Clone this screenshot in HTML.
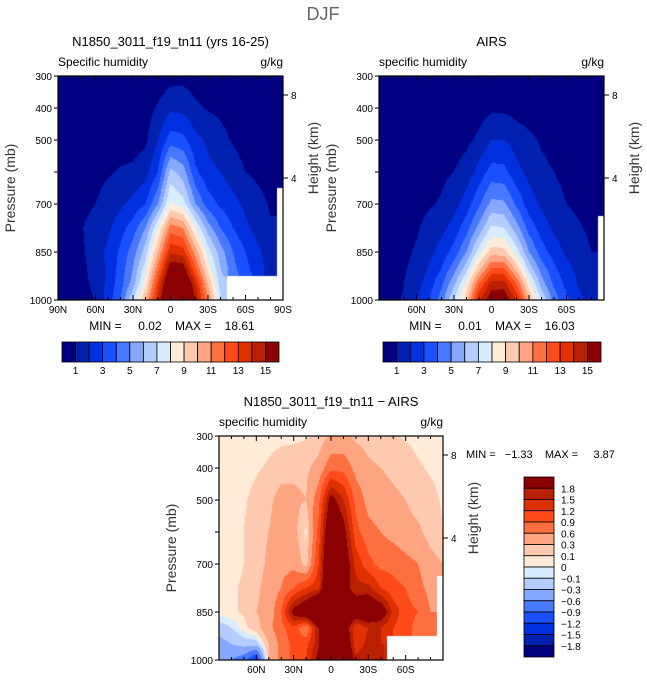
<!DOCTYPE html>
<html><head><meta charset="utf-8">
<style>
body{margin:0;background:#fff;width:647px;height:684px;overflow:hidden;position:relative;font-family:"Liberation Sans",sans-serif;}
canvas{position:absolute;}
svg{position:absolute;left:0;top:0;}
text{white-space:pre;}
</style></head>
<body>
<canvas id="cA" width="225" height="224" style="left:58px;top:76px"></canvas>
<canvas id="cB" width="225" height="224" style="left:379px;top:76px"></canvas>
<canvas id="cC" width="224" height="224" style="left:219px;top:436px"></canvas>
<svg id="ov" width="647" height="684"></svg>
<script>
const lats=[-90,-80,-70,-60,-50,-40,-30,-20,-10,0,10,20,30,40,50,60,70,80,90];
const pres=[300,400,500,600,700,775,850,900,950,1000];
const N=null;
const modelQ=[
[.1,.1,.1,.1,.1,.1,.2,.3,.4,.6,.7,.5,.4,.3,.2,.2,.1,.1,.1],
[.1,.1,.1,.2,.2,.3,.4,.6,1.1,1.8,1.7,1.2,.9,.8,.6,.4,.3,.2,.2],
[.2,.2,.3,.3,.4,.5,.6,.8,2.0,3.5,3.3,2.3,1.8,1.3,.9,.6,.4,.3,.2],
[.3,.3,.5,.7,.9,1.1,1.2,1.6,3.0,6.3,5.5,3.2,2.3,2.0,1.5,1.0,.8,.6,.4],
[.4,.5,.8,1.0,1.4,1.8,2.3,3.0,5.0,8.2,7.5,5.0,3.5,2.8,2.3,1.8,1.3,.9,N],
[.4,.6,1.0,1.3,1.8,2.6,3.5,5.0,8.0,11.5,11,8,5.5,4,3,2.2,1.6,1.1,N],
[.5,.6,.9,1.6,2.2,3.2,4.5,6.5,10,13.8,13.5,10.5,7.5,5.5,4,3,2.2,1.5,N],
[.5,.6,.8,1.4,2.2,3.4,5,7.5,11.5,15.8,15.6,12,8.5,6,4.3,3.3,2.4,1.6,N],
[.5,.6,.8,1.2,2.3,3.6,5.5,8.5,13,17.5,17.5,14,10,6.5,N,N,N,N,N],
[.5,.6,.8,1.0,2.5,4.0,7,10,14,18.6,18,15,11,7,N,N,N,N,N]];
const airsQ=[
[.1,.1,.1,.1,.1,.1,.1,.2,.2,.3,.3,.3,.2,.2,.1,.1,.1,.1,.1],
[.1,.1,.1,.1,.2,.2,.3,.4,.6,.8,.8,.6,.5,.4,.3,.2,.2,.1,.1],
[.2,.2,.2,.3,.3,.4,.6,.8,1.2,2.0,2.0,1.6,1.2,.9,.7,.5,.4,.3,.2],
[.3,.3,.4,.5,.6,.8,1.0,1.4,2.4,3.4,3.3,2.3,1.7,1.2,1.0,.8,.6,.4,.3],
[.4,.4,.5,.7,.9,1.1,1.6,2.5,3.8,5.3,5.2,3.8,2.5,1.8,1.3,1.0,.8,.6,.4],
[.4,.5,.7,.9,1.3,1.7,2.4,3.6,5.3,7.2,7.0,5.4,3.6,2.5,1.8,1.4,1.1,.8,N],
[.5,.6,.8,1.1,1.7,2.4,3.4,5,7.5,9.5,9.4,7.5,5,3.5,2.5,1.8,1.4,1,N],
[.5,.6,.9,1.3,2.1,3,4.5,6.5,9.5,12,12,9.5,6.5,4.5,3.2,2.3,1.7,1.1,N],
[.5,.6,1.0,1.6,2.5,3.8,5.8,8.3,12,14.5,14.5,12,8.5,5.5,3.8,2.7,1.9,1.3,N],
[.6,.7,1.1,1.9,3,4.5,7,9.5,14,15.8,16,14,10,7,4.6,3.2,2.3,1.5,N]];
const diffQ=[
[.05,.05,.05,.05,.05,.05,.05,.08,.15,.35,.35,.25,.2,.15,.12,.08,.05,.05,.05],
[.05,.05,.05,.08,.12,.2,.25,.25,.4,.8,.8,.5,.35,.3,.25,.2,.12,.08,.05],
[.05,.05,.08,.15,.25,.4,.35,.3,.8,2.0,1.5,.8,.5,.4,.35,.3,.2,.15,.08],
[.05,.05,.1,.2,.3,.4,.4,.05,1.0,2.5,2.0,1.0,.7,.6,.5,.4,.35,.2,.1],
[.05,.05,.1,.2,.35,.5,.5,.2,1.2,2.8,2.2,1.4,1.0,.8,.8,.7,.6,.4,.3],
[.05,.08,.12,.25,.4,.6,.9,1.2,1.4,2.8,2.0,1.6,1.6,1.2,1.0,.9,.7,.5,N],
[.05,.08,.12,.3,.4,.9,2.0,2.4,3.0,3.4,2.6,2.2,2.4,2.2,1.4,1.0,.9,.6,N],
[-.2,-.1,.05,.2,.5,.8,1.1,.6,1.8,3.2,2.3,1.2,1.5,1.5,1.2,1.0,.8,.6,N],
[-.4,-.3,-.2,-.2,.3,.7,1.0,1.1,1.7,3.5,2.5,1.3,1.6,1.5,N,N,N,N,N],
[-.5,-.6,-.8,-1.3,.3,.7,1.0,1.2,2.0,3.8,2.8,1.6,1.8,1.5,N,N,N,N,N]];
const levelsQ=[1,2,3,4,5,6,7,8,9,10,11,12,13,14,15];
const levelsD=[-1.8,-1.5,-1.2,-0.9,-0.6,-0.3,-0.1,0,0.1,0.3,0.6,0.9,1.2,1.5,1.8];
const qLabels=["1","3","5","7","9","11","13","15"];
const dLabels=["1.8","1.5","1.2","0.9","0.6","0.3","0.1","0","−0.1","−0.3","−0.6","−0.9","−1.2","−1.5","−1.8"];
const pTicks=[300,400,500,600,700,850,1000];
const pTickLabels=["300","400","500","","700","850","1000"];
const colors=["#000080","#0020b0","#0030e0","#1a50ff","#4878ff","#86a8ff","#b4ccff","#d8ecff","#ffebd8","#ffcab0","#ffa480","#ff7040","#ff4a1a","#e03000","#b82000","#8b0000"];

function lev(v,L){let k=0;while(k<L.length&&v>=L[k])k++;return k;}
function sample(G,lat,p){
  let j=Math.min(17,Math.max(0,Math.floor((lat+90)/10)));
  let i=0;while(i<pres.length-2&&p>pres[i+1])i++;
  const tj=(lat-lats[j])/10, ti=(p-pres[i])/(pres[i+1]-pres[i]);
  const nj=tj<.5?j:j+1, ni=ti<.5?i:i+1;
  if(G[ni][nj]===null)return null;
  const g=(a,b)=>{let v=G[a][b];return v===null?G[ni][nj]:v;};
  return (1-ti)*((1-tj)*g(i,j)+tj*g(i,j+1))+ti*((1-tj)*g(i+1,j)+tj*g(i+1,j+1));
}
function draw(id,G,L){
  const c=document.getElementById(id),ctx=c.getContext('2d'),W=c.width,H=c.height;
  const img=ctx.createImageData(W,H);
  const rgb=colors.map(h=>[parseInt(h.substr(1,2),16),parseInt(h.substr(3,2),16),parseInt(h.substr(5,2),16)]);
  for(let y=0;y<H;y++)for(let x=0;x<W;x++){
    const lat=-90+(x+.5)/W*180,p=300+(y+.5)/H*700;
    const v=sample(G,lat,p);const o=(y*W+x)*4;
    const col=v===null?[255,255,255]:rgb[lev(v,L)];
    img.data[o]=col[0];img.data[o+1]=col[1];img.data[o+2]=col[2];img.data[o+3]=255;
  }
  ctx.putImageData(img,0,0);
}
draw('cA',modelQ,levelsQ);draw('cB',airsQ,levelsQ);draw('cC',diffQ,levelsD);

const S=document.getElementById('ov');const NS="http://www.w3.org/2000/svg";
function el(t,a,txt){const e=document.createElementNS(NS,t);for(const k in a)e.setAttribute(k,a[k]);if(txt!==undefined)e.textContent=txt;S.appendChild(e);return e;}
function txt(x,y,s,size,anchor,name,extra){const e=el('text',Object.assign({x:x,y:y,'font-size':size,'text-anchor':anchor||'start',fill:'#000','font-family':'Liberation Sans, sans-serif'},extra||{}),s);

return e;}

txt(323,20,"DJF",18,'middle','figure-title',{fill:'#666'});
function panel(x0,y0,w,h,title,sub,xl,pre){
  const xs=lat=>x0+(lat+90)/180*w, ys=p=>y0+(p-300)/700*h;
  const f=el('rect',{x:x0,y:y0,width:w,height:h,fill:'none',stroke:'#000','stroke-width':1.2});
  
  
  txt(x0+w/2,y0-30,title,13,'middle',pre+'-title');
  txt(x0,y0-10,sub,12,'start',pre+'-subtitle');
  txt(x0+w,y0-10,"g/kg",12,'end',pre+'-units');
  pTicks.forEach((p,k)=>{
    const t=el('line',{x1:x0-4,x2:x0,y1:ys(p),y2:ys(p),stroke:'#000'});
    
    
    if(pTickLabels[k])txt(x0-6,ys(p)+4,pTickLabels[k],10,'end','y-tick-label');
  });
  for(let lat=-90;lat<=90;lat+=10){
    const big=lat%30===0;
    const t=el('line',{x1:xs(lat),x2:xs(lat),y1:y0+h,y2:y0+h-(big?5:3),stroke:'#000'});
    
    
    const t2=el('line',{x1:xs(lat),x2:xs(lat),y1:y0,y2:y0+(big?5:3),stroke:'#000'});
    
    
  }
  xl.forEach(l=>{const s=l===0?"0":(Math.abs(l)+(l<0?"N":"S"));txt(xs(l),y0+h+13,s,10,'middle','x-tick-label');});
  txt(x0-43,y0+h/2,"Pressure (mb)",14,'middle',pre+'-y-axis-title',{transform:`rotate(-90 ${x0-43} ${y0+h/2})`,fill:'#333'});
  [[8,19],[4,102]].forEach(([km,dy])=>{
    const t=el('line',{x1:x0+w,x2:x0+w+5,y1:y0+dy,y2:y0+dy,stroke:'#000'});
    
    
    txt(x0+w+8,y0+dy+4,String(km),10,'start','height-tick-label');
  });
  txt(x0+w+35,y0+h/2-30,"Height (km)",14,'middle',pre+'-right-axis-title',{transform:`rotate(-90 ${x0+w+35} ${y0+h/2-30})`,fill:'#333'});
}
panel(58,76,225,224,"N1850_3011_f19_tn11 (yrs 16-25)","Specific humidity",[-90,-60,-30,0,30,60,90],'model');
panel(379,76,225,224,"AIRS","specific humidity",[-60,-30,0,30,60],'airs');
panel(219,436,224,224,"N1850_3011_f19_tn11 − AIRS","specific humidity",[-60,-30,0,30,60],'diff');
txt(172,330,"MIN =     0.02    MAX =    18.61",12,'middle','model-min-max');
txt(492,330,"MIN =     0.01    MAX =    16.03",12,'middle','airs-min-max');
txt(466,458,"MIN =   −1.33    MAX =     3.87",11,'start','diff-min-max');

function hbar(x0,y0,w,h,pre){
  const bw=w/16;
  colors.forEach((c,k)=>{const r=el('rect',{x:x0+k*bw,y:y0,width:bw,height:h,fill:c,stroke:'#000','stroke-width':0.8});
    
    });
  qLabels.forEach((s,k)=>txt(x0+(1+2*k)*bw,y0+h+12,s,10,'middle',pre+'-colorbar-label'));
}
hbar(62,342,217,20,'model');hbar(383,342,218,20,'airs');
const vb=11.25;
colors.slice().reverse().forEach((c,k)=>{const r=el('rect',{x:524,y:477+k*vb,width:30,height:vb,fill:c,stroke:'#000','stroke-width':0.8});
  
  });
dLabels.forEach((s,k)=>txt(561,477+(k+1)*vb+4,s,10,'start','diff-colorbar-label'));
</script>
</body></html>
